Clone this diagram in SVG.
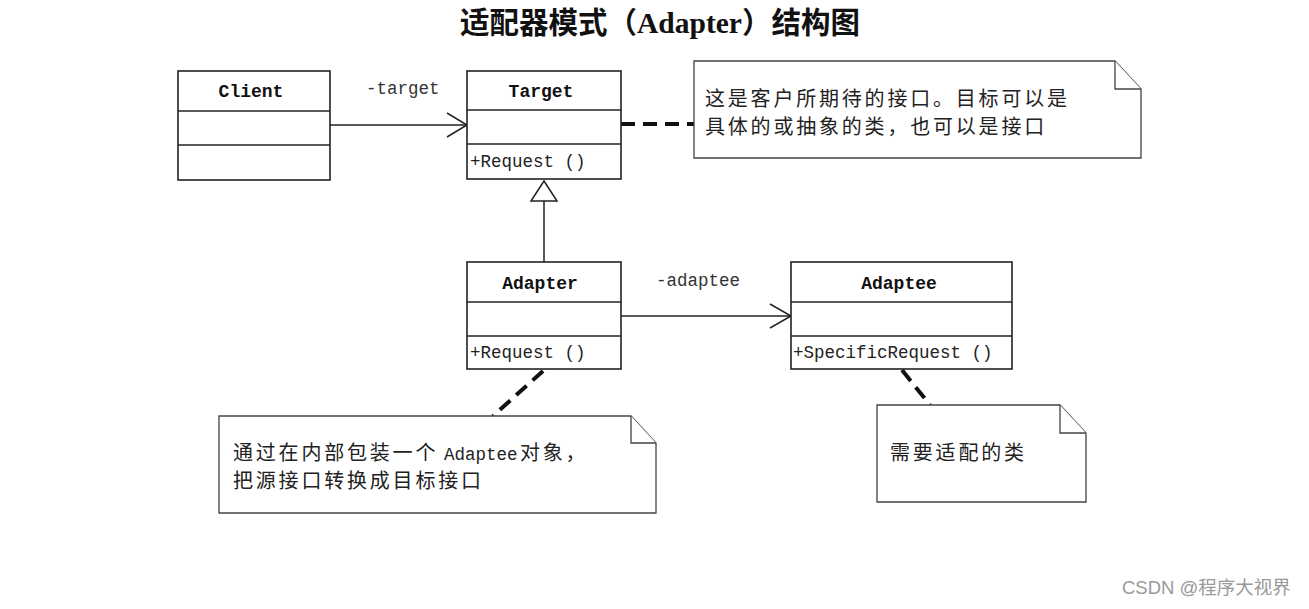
<svg xmlns="http://www.w3.org/2000/svg" width="1309" height="609" viewBox="0 0 1309 609">
<defs>
<style>
.box{fill:#fff;stroke:#222;stroke-width:1.6}
.sep{stroke:#222;stroke-width:1.6}
.cname{font-family:"Liberation Mono",monospace;font-weight:bold;font-size:18px;fill:#111;text-anchor:middle}
.op{font-family:"Liberation Mono",monospace;font-size:17.5px;fill:#222}
.lbl{font-family:"Liberation Mono",monospace;font-size:17.5px;fill:#333}
.note{fill:#fff;stroke:#444;stroke-width:1.3}
.ntext{font-family:"Noto Sans CJK SC",sans-serif;font-size:20px;letter-spacing:2.8px;fill:#222}
.assoc{stroke:#222;stroke-width:1.5;fill:none}
.dash{stroke:#111;stroke-width:4;stroke-dasharray:14 8;fill:none}
</style>
</defs>
<rect width="1309" height="609" fill="#fff"/>
<text x="460" y="33" font-family="'Liberation Serif','Noto Sans CJK SC',serif" font-weight="bold" font-size="29.5" fill="#111"><tspan font-family="'Noto Sans CJK SC',sans-serif">适配器模式（</tspan>Adapter<tspan font-family="'Noto Sans CJK SC',sans-serif">）结构图</tspan></text>

<g id="connectors">
<line class="assoc" x1="330" y1="125" x2="466" y2="125"/>
<polyline class="assoc" points="447,113 467,125 447,137"/>
<text class="lbl" x="366" y="94">-target</text>
<line class="assoc" x1="544" y1="201" x2="544" y2="262"/>
<polygon points="544,181 531,201 557,201" fill="#fff" stroke="#222" stroke-width="1.5"/>
<line class="assoc" x1="621" y1="316" x2="790" y2="316"/>
<polyline class="assoc" points="770,304 791,316 770,328"/>
<text class="lbl" x="656" y="286">-adaptee</text>
<line class="dash" x1="621" y1="124" x2="694" y2="124"/>
<line class="dash" x1="543" y1="371" x2="493" y2="416"/>
<line class="dash" x1="902" y1="370" x2="930" y2="405"/>
</g>

<g id="client">
<rect class="box" x="178" y="71" width="152" height="109"/>
<line class="sep" x1="178" y1="111" x2="330" y2="111"/>
<line class="sep" x1="178" y1="145" x2="330" y2="145"/>
<text class="cname" x="251" y="97">Client</text>
</g>

<g id="target">
<rect class="box" x="467" y="71" width="154" height="108"/>
<line class="sep" x1="467" y1="110" x2="621" y2="110"/>
<line class="sep" x1="467" y1="144" x2="621" y2="144"/>
<text class="cname" x="541" y="97">Target</text>
<text class="op" x="470" y="167">+Request ()</text>
</g>

<g id="adapter">
<rect class="box" x="467" y="262" width="154" height="107"/>
<line class="sep" x1="467" y1="302" x2="621" y2="302"/>
<line class="sep" x1="467" y1="336" x2="621" y2="336"/>
<text class="cname" x="540" y="289">Adapter</text>
<text class="op" x="470" y="358">+Request ()</text>
</g>

<g id="adaptee">
<rect class="box" x="791" y="262" width="221" height="107"/>
<line class="sep" x1="791" y1="302" x2="1012" y2="302"/>
<line class="sep" x1="791" y1="336" x2="1012" y2="336"/>
<text class="cname" x="899" y="289">Adaptee</text>
<text class="op" x="793" y="358">+SpecificRequest ()</text>
</g>

<g id="note-target">
<path class="note" d="M694,61 H1115 L1141,89 V158 H694 Z"/>
<path class="note" d="M1115,61 V89 H1141" fill="none"/>
<text class="ntext" x="705" y="106">这是客户所期待的接口。目标可以是</text>
<text class="ntext" x="705" y="134">具体的或抽象的类，也可以是接口</text>
</g>

<g id="note-adapter">
<path class="note" d="M219,416 H631 L656,443 V513 H219 Z"/>
<path class="note" d="M631,416 V443 H656" fill="none"/>
<text class="ntext" x="233" y="460">通过在内部包装一个</text>
<text class="op" x="444" y="460">Adaptee</text>
<text class="ntext" x="520" y="460">对象，</text>
<text class="ntext" x="233" y="488">把源接口转换成目标接口</text>
</g>

<g id="note-adaptee">
<path class="note" d="M877,405 H1060 L1086,433 V502 H877 Z"/>
<path class="note" d="M1060,405 V433 H1086" fill="none"/>
<text class="ntext" x="890" y="460">需要适配的类</text>
</g>

<text x="1122" y="594" font-family="'Liberation Sans','Noto Sans CJK SC',sans-serif" font-size="18.5" fill="#999">CSDN @程序大视界</text>
</svg>
